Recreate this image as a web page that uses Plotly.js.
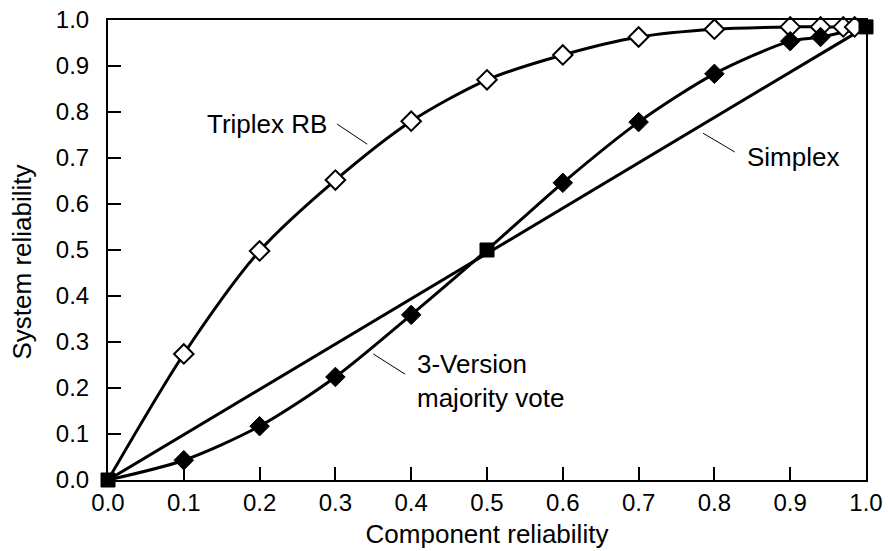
<!DOCTYPE html>
<html>
<head>
<meta charset="utf-8">
<script src="https://cdn.plot.ly/plotly-3.0.1.min.js"></script>
<style>html,body{margin:0;padding:0;background:#fff}#chart{width:888px;height:551px}</style>
</head>
<body>
<div id="chart"></div>
<script>
// Data
const triplexX = [0, 0.1, 0.2, 0.3, 0.4, 0.5, 0.6, 0.7, 0.8, 0.9, 0.94, 0.97, 0.985, 1.0];
const triplexY = [0, 0.274, 0.498, 0.652, 0.780, 0.870, 0.924, 0.963, 0.980, 0.985, 0.985, 0.985, 0.985, 0.985];
const triplexMarkX = [0.1, 0.2, 0.3, 0.4, 0.5, 0.6, 0.7, 0.8, 0.9, 0.94, 0.97, 0.985];
const triplexMarkY = [0.274, 0.498, 0.652, 0.780, 0.870, 0.924, 0.963, 0.980, 0.985, 0.985, 0.985, 0.985];

const majorityX = [0, 0.1, 0.2, 0.3, 0.4, 0.5, 0.6, 0.7, 0.8, 0.9, 0.94, 1.0];
const majorityY = [0, 0.043, 0.117, 0.224, 0.359, 0.50, 0.646, 0.778, 0.883, 0.954, 0.963, 0.985];
const majorityMarkX = [0.1, 0.2, 0.3, 0.4, 0.6, 0.7, 0.8, 0.9, 0.94];
const majorityMarkY = [0.043, 0.117, 0.224, 0.359, 0.646, 0.778, 0.883, 0.954, 0.963];

const simplexX = [0, 1.0];
const simplexY = [0, 0.985];

const junctionX = [0, 0.5, 1.0];
const junctionY = [0, 0.5, 0.985];

const xTicks = [0, 0.1, 0.2, 0.3, 0.4, 0.5, 0.6, 0.7, 0.8, 0.9, 1.0];
const xTickText = ["0.0","0.1","0.2","0.3","0.4","0.5","0.6","0.7","0.8","0.9","1.0"];
const yTicks = [0, 0.1, 0.2, 0.3, 0.4, 0.5, 0.6, 0.7, 0.8, 0.9, 1.0];
const yTickText = ["0.0","0.1","0.2","0.3","0.4","0.5","0.6","0.7","0.8","0.9","1.0"];

const FONT = "Liberation Sans, Arial, Helvetica, sans-serif";
const lineStyle = {color: "#000", width: 3};

const traces = [
  {x: simplexX, y: simplexY, mode: "lines", line: lineStyle, cliponaxis: false, hoverinfo: "skip"},
  {x: triplexX, y: triplexY, mode: "lines", line: Object.assign({shape: "spline", smoothing: 0.8}, lineStyle), cliponaxis: false},
  {x: majorityX, y: majorityY, mode: "lines", line: Object.assign({shape: "spline", smoothing: 0.8}, lineStyle), cliponaxis: false},
  {x: triplexMarkX, y: triplexMarkY, mode: "markers", cliponaxis: false,
   marker: {symbol: "diamond", size: 15, color: "#fff", line: {color: "#000", width: 2}}},
  {x: majorityMarkX, y: majorityMarkY, mode: "markers", cliponaxis: false,
   marker: {symbol: "diamond", size: 15, color: "#000", line: {color: "#000", width: 1}}},
  {x: junctionX, y: junctionY, mode: "markers", cliponaxis: false,
   marker: {symbol: "square", size: 14, color: "#000", line: {color: "#000", width: 1}}}
];

const layout = {
  width: 888, height: 551,
  margin: {l: 108, r: 22, t: 20, b: 71},
  paper_bgcolor: "#fff", plot_bgcolor: "#fff",
  showlegend: false,
  font: {family: FONT, size: 24, color: "#000"},
  xaxis: {
    range: [0, 1], tickvals: xTicks, ticktext: xTickText,
    ticks: "inside", ticklen: 13, tickwidth: 2, tickcolor: "#000",
    showline: true, linecolor: "#000", linewidth: 2, mirror: true,
    showgrid: false, zeroline: false,
    tickfont: {family: FONT, size: 24, color: "#000"},
    title: {text: "Component reliability", font: {family: FONT, size: 26, color: "#000"}, standoff: 10}
  },
  yaxis: {
    range: [0, 1], tickvals: yTicks, ticktext: yTickText,
    ticks: "inside", ticklen: 13, tickwidth: 2, tickcolor: "#000",
    showline: true, linecolor: "#000", linewidth: 2, mirror: true,
    showgrid: false, zeroline: false,
    ticklabelstandoff: 12,
    tickfont: {family: FONT, size: 24, color: "#000"}
  },
  annotations: [
    {x: -0.1135, y: 0.475, xref: "paper", yref: "paper", text: "System reliability", textangle: -90, showarrow: false, xanchor: "center", yanchor: "middle", font: {size: 26}},
    {x: 0.128, y: 0.774, xref: "x", yref: "y", text: "Triplex RB", showarrow: false, xanchor: "left", yanchor: "middle", font: {size: 26}},
    {x: 0.840, y: 0.702, xref: "x", yref: "y", text: "Simplex", showarrow: false, xanchor: "left", yanchor: "middle", font: {size: 26}},
    {x: 0.405, y: 0.215, xref: "x", yref: "y", text: "3-Version<br>majority vote", showarrow: false, xanchor: "left", yanchor: "middle", align: "left", font: {size: 26}}
  ],
  shapes: [
    {type: "line", xref: "x", yref: "y", x0: 0.302, y0: 0.774, x1: 0.342, y1: 0.730, line: {color: "#000", width: 1}},
    {type: "line", xref: "x", yref: "y", x0: 0.785, y0: 0.754, x1: 0.827, y1: 0.713, line: {color: "#000", width: 1}},
    {type: "line", xref: "x", yref: "y", x0: 0.350, y0: 0.274, x1: 0.392, y1: 0.230, line: {color: "#000", width: 1}}
  ]
};

Plotly.newPlot("chart", traces, layout, {staticPlot: true, displayModeBar: false});
</script>
</body>
</html>
